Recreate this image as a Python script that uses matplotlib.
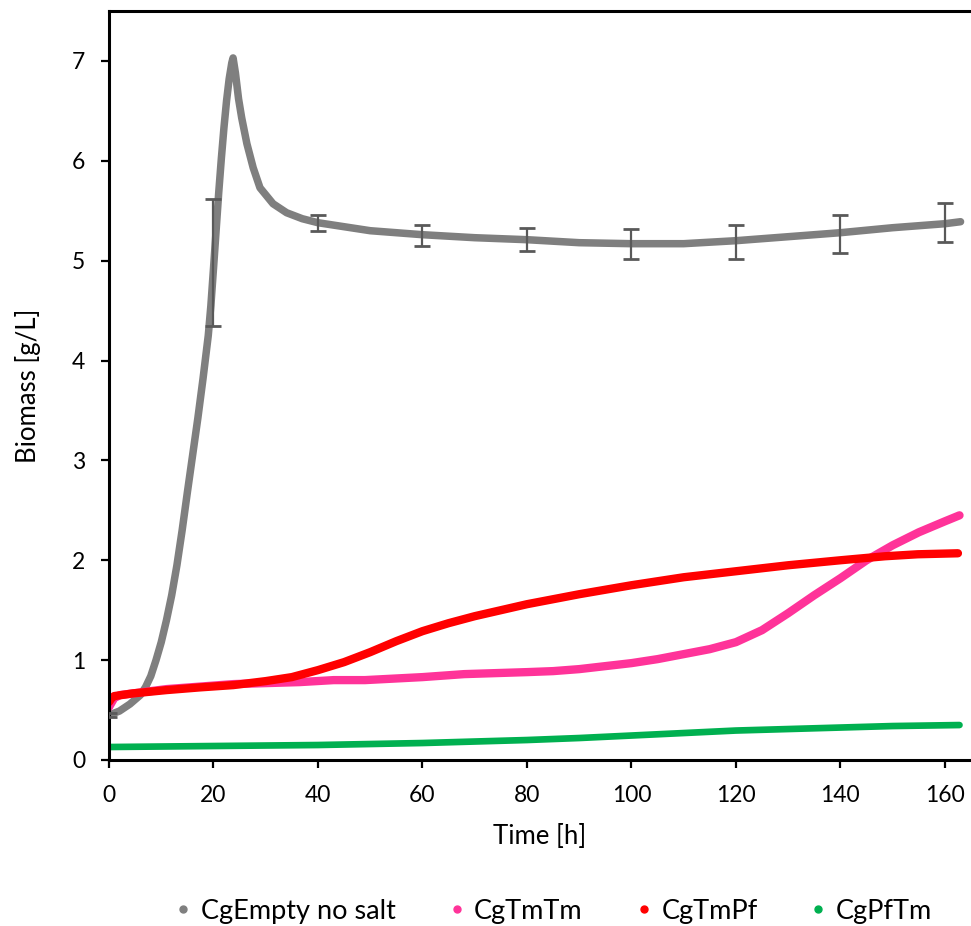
import matplotlib
matplotlib.use("Agg")
import matplotlib.pyplot as plt
from matplotlib.lines import Line2D

plt.rcParams["font.family"] = ["Lato", "DejaVu Sans"]

# CgEmpty no salt (grey)
empty_t = [0, 2, 4, 6, 7, 8, 9, 10, 11, 12, 13, 14, 15, 16, 17, 18, 19, 19.5, 20,
           20.5, 21, 21.5, 22, 22.5, 23, 23.5, 23.75, 24.2, 24.8, 25.4, 26.4, 27.6,
           28.9, 31.4, 34, 37, 40, 45, 50, 55, 60, 70, 80, 90, 100, 110, 120, 130,
           140, 150, 160, 163]
empty_v = [0.45, 0.49, 0.56, 0.65, 0.73, 0.84, 1.00, 1.18, 1.40, 1.65, 1.95, 2.30,
           2.68, 3.05, 3.42, 3.82, 4.25, 4.55, 4.92, 5.30, 5.68, 6.02, 6.33, 6.60,
           6.82, 6.98, 7.03, 6.88, 6.62, 6.43, 6.17, 5.93, 5.73, 5.57, 5.48, 5.42,
           5.38, 5.34, 5.30, 5.28, 5.26, 5.23, 5.21, 5.18, 5.17, 5.17, 5.20, 5.24,
           5.28, 5.33, 5.37, 5.39]

# error bars on the grey series
err_t = [0, 20, 40, 60, 80, 100, 120, 140, 160]
err_mid = [0.45, 4.985, 5.377, 5.25, 5.215, 5.17, 5.187, 5.268, 5.38]
err_sd = [0.02, 0.635, 0.08, 0.107, 0.115, 0.15, 0.17, 0.19, 0.193]

# CgTmTm (pink)
tmtm_t = [0, 1, 2.1, 11, 23.8, 36.5, 43, 49, 60, 68, 80, 85, 90, 95, 100, 105,
          110, 115, 120, 125, 130, 135, 140, 145, 150, 155, 160, 162.8]
tmtm_v = [0.53, 0.62, 0.65, 0.71, 0.76, 0.78, 0.80, 0.80, 0.83, 0.86, 0.88, 0.89,
          0.91, 0.94, 0.97, 1.01, 1.06, 1.11, 1.18, 1.30, 1.47, 1.65, 1.82, 2.00,
          2.15, 2.28, 2.39, 2.45]

# CgTmPf (red)
tmpf_t = [0, 0.5, 1, 4.6, 11, 17.4, 23.8, 30, 35, 40, 45, 50, 55, 60, 65, 70, 75,
          80, 90, 100, 110, 120, 130, 140, 148.5, 154.8, 162.5]
tmpf_v = [0.58, 0.62, 0.64, 0.667, 0.70, 0.727, 0.75, 0.79, 0.83, 0.90, 0.98, 1.08,
          1.19, 1.29, 1.37, 1.44, 1.50, 1.56, 1.66, 1.75, 1.83, 1.89, 1.95, 2.00,
          2.04, 2.06, 2.07]

# CgPfTm (green)
pftm_t = [0, 20, 40, 60, 80, 90, 100, 110, 120, 130, 140, 150, 162.8]
pftm_v = [0.13, 0.14, 0.15, 0.17, 0.20, 0.22, 0.245, 0.27, 0.295, 0.31, 0.325,
          0.34, 0.35]

labels = ["CgEmpty no salt", "CgTmTm", "CgTmPf", "CgPfTm"]
colors = ["#7f7f7f", "#ff3399", "#ff0000", "#00b050"]

fig = plt.figure(figsize=(9.71, 9.26), dpi=100)
ax = fig.add_axes([109 / 971, 166 / 926, 862 / 971, 749 / 926])

series = [(empty_t, empty_v, 5.4), (tmtm_t, tmtm_v, 6.0),
          (tmpf_t, tmpf_v, 6.0), (pftm_t, pftm_v, 4.8)]
for (t, v, lw), c in zip(series, colors):
    ax.plot(t, v, color=c, lw=lw, solid_capstyle="round",
            solid_joinstyle="round")

ax.errorbar(err_t, err_mid, yerr=err_sd, fmt="none", ecolor="#595959",
            elinewidth=1.6, capsize=5.8, capthick=2.0, zorder=5)

ax.set_xlim(0, 165)
ax.set_ylim(0, 7.5)
ax.set_xticks(range(0, 161, 20))
ax.set_yticks(range(0, 8))
ax.tick_params(axis="both", direction="out", length=6, width=1.6,
               labelsize=16.5, color="black")
ax.tick_params(axis="x", pad=12)
ax.tick_params(axis="y", pad=11)

for s in ["left", "bottom", "top"]:
    ax.spines[s].set_linewidth(2.2)
ax.spines["right"].set_visible(False)

ax.set_xlabel("Time [h]", fontsize=18.5, labelpad=13)
ax.set_ylabel("Biomass [g/L]", fontsize=18.5, labelpad=22)

handles = [Line2D([], [], ls="none", marker="o", markersize=5,
                  markerfacecolor=c, markeredgecolor=c) for c in colors]
fig.legend(handles, labels, loc="center", bbox_to_anchor=(553 / 971, 15 / 926),
           ncol=4, frameon=False, fontsize=19.5, handlelength=0.7,
           handletextpad=0.3, columnspacing=1.9)

fig.savefig("out.png", dpi=100)
